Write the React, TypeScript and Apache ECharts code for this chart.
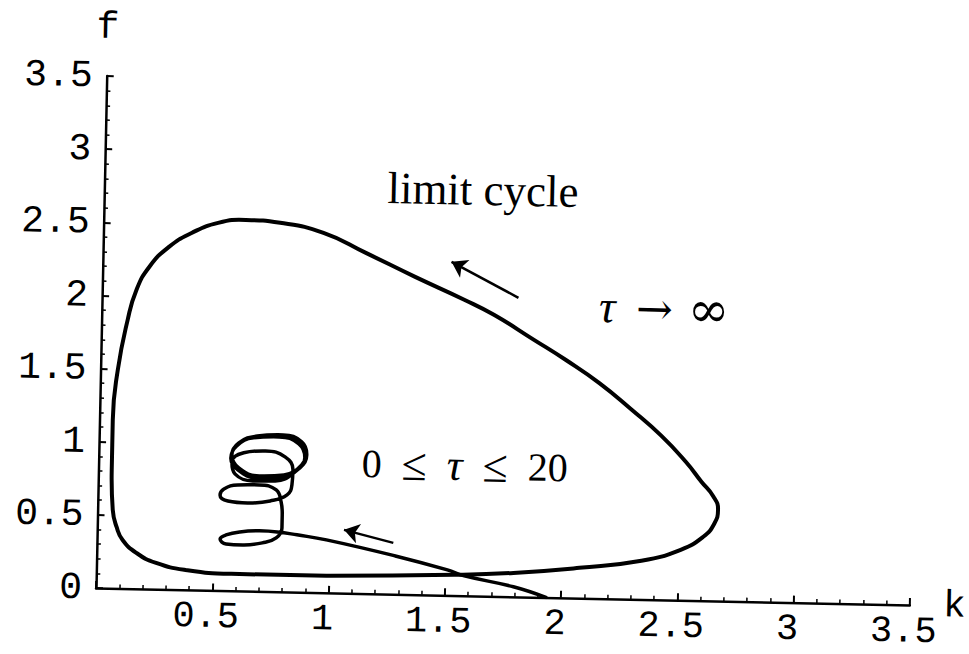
import React, { useEffect, useRef } from "react";
import * as echarts from "echarts";

// Axis ranges and tick step
const K_MAX = 3.5;
const F_MAX = 3.5;
const TICK_STEP = 0.5;

// Closed orbit (limit cycle) in the (k, f) phase plane, traversed counter-clockwise
const limitCycle: [number, number][] = [
  [0.989, 0.116], [1.539, 0.141], [1.793, 0.163], [2.076, 0.207], [2.342, 0.264],
  [2.51, 0.345], [2.606, 0.437], [2.652, 0.528], [2.667, 0.624], [2.645, 0.716],
  [2.593, 0.813], [2.524, 0.947], [2.416, 1.122], [2.287, 1.295], [2.144, 1.474],
  [1.998, 1.627], [1.857, 1.762], [1.686, 1.924], [1.557, 2.023], [1.344, 2.172],
  [1.13, 2.329], [0.946, 2.46], [0.759, 2.522], [0.611, 2.537], [0.492, 2.513],
  [0.379, 2.44], [0.283, 2.342], [0.2, 2.202], [0.147, 2.043], [0.112, 1.837],
  [0.074, 1.493], [0.057, 1.151], [0.057, 0.809], [0.065, 0.536], [0.083, 0.42],
  [0.11, 0.332], [0.171, 0.245], [0.256, 0.18], [0.383, 0.136], [0.579, 0.116],
  [0.989, 0.116],
];

// Transient trajectory for 0 <= tau <= 20, starting on the k axis
const transient: [number, number][] = [
  [1.935, 0.0], [1.794, 0.068], [1.582, 0.136], [1.509, 0.174], [1.284, 0.262],
  [0.986, 0.362], [0.859, 0.392], [0.774, 0.409], [0.697, 0.414], [0.613, 0.404],
  [0.554, 0.381], [0.529, 0.353], [0.555, 0.32], [0.627, 0.315], [0.711, 0.332],
  [0.77, 0.368], [0.794, 0.437], [0.794, 0.526], [0.788, 0.615], [0.766, 0.696],
  [0.693, 0.728], [0.6, 0.725], [0.541, 0.695], [0.525, 0.653], [0.559, 0.614],
  [0.644, 0.603], [0.741, 0.62], [0.813, 0.664], [0.833, 0.733], [0.836, 0.835],
  [0.801, 0.923], [0.716, 0.961], [0.623, 0.945], [0.573, 0.881], [0.587, 0.8],
  [0.664, 0.754], [0.761, 0.757], [0.845, 0.822], [0.886, 0.919], [0.859, 1.014],
  [0.774, 1.059], [0.664, 1.049], [0.592, 0.991], [0.568, 0.908], [0.599, 0.827],
  [0.684, 0.775], [0.786, 0.785], [0.865, 0.85], [0.894, 0.94], [0.871, 1.028],
  [0.791, 1.073], [0.68, 1.062], [0.601, 1.012], [0.572, 0.929], [0.603, 0.841],
  [0.692, 0.789], [0.798, 0.8], [0.873, 0.871], [0.893, 0.96],
];

// Direction-of-motion arrows: [tail, head]
const flowArrows: [number, number][][] = [
  [[1.79, 2.044], [1.499, 2.28]],
  [[1.274, 0.351], [1.061, 0.433]],
];

const MONO = '"Liberation Mono", "DejaVu Sans Mono", monospace';
const SERIF = '"Liberation Serif", "DejaVu Serif", serif';
const DV_SERIF = '"DejaVu Serif", serif';
const SP = "\u2002";

function textEl(text: string, x: number, y: number, size: number, family: string, extra: any = {}) {
  return {
    type: "text",
    z: 10,
    style: {
      text,
      x,
      y,
      fontSize: size,
      fontFamily: family,
      fill: "#000",
      align: "left",
      textAlign: "left",
      verticalAlign: "middle",
      textVerticalAlign: "middle",
      ...extra,
    },
  };
}

export default function App() {
  const ref = useRef<HTMLDivElement>(null);

  useEffect(() => {
    if (!ref.current) return;
    const chart = echarts.init(ref.current, null, { renderer: "svg" });

    const axisCommon = {
      type: "value" as const,
      min: 0,
      interval: TICK_STEP,
      axisLine: { show: true, onZero: false, lineStyle: { color: "#000", width: 2.5 } },
      axisTick: { show: true, inside: true, length: 7, lineStyle: { color: "#000", width: 2 } },
      minorTick: { show: true, splitNumber: 5, length: 4, lineStyle: { color: "#000", width: 1.5 } },
      splitLine: { show: false },
      minorSplitLine: { show: false },
      nameTextStyle: { fontFamily: MONO, fontSize: 38, color: "#000" },
    };

    chart.setOption({
      animation: false,
      backgroundColor: "#fff",
      grid: { left: 96, top: 76, width: 827, height: 512, containLabel: false },
      xAxis: {
        ...axisCommon,
        max: K_MAX,
        name: "k",
        nameLocation: "end",
        nameGap: 20,
        axisLabel: {
          fontFamily: MONO,
          fontSize: 37,
          color: "#000",
          margin: 8,
          padding: [0, 12, 0, 0],
          formatter: (v: number) => (v === 0 ? "" : String(v)),
        },
      },
      yAxis: {
        ...axisCommon,
        max: F_MAX,
        name: "f",
        nameLocation: "end",
        nameGap: 30,
        axisLabel: {
          fontFamily: MONO,
          fontSize: 38,
          color: "#000",
          margin: 14,
          formatter: (v: number) => String(v),
        },
      },
      series: [
        {
          name: "limit cycle",
          type: "line",
          data: limitCycle,
          smooth: 0.5,
          showSymbol: false,
          symbol: "none",
          lineStyle: { color: "#000", width: 4, join: "round", cap: "round" },
          z: 3,
        },
        {
          name: "transient",
          type: "line",
          data: transient,
          smooth: 0.45,
          showSymbol: false,
          symbol: "none",
          lineStyle: { color: "#000", width: 3.5, join: "round", cap: "round" },
          z: 3,
        },
        {
          name: "flow",
          type: "lines",
          coordinateSystem: "cartesian2d",
          symbol: ["none", "arrow"],
          symbolSize: [11, 15],
          lineStyle: { color: "#000", width: 2.5, opacity: 1, curveness: 0 },
          data: flowArrows.map((c) => ({ coords: c })),
          z: 4,
        },
      ],
      graphic: [
        textEl("limit cycle", 379, 182, 45, SERIF),
        textEl("τ", 593, 296, 46, SERIF, { fontStyle: "italic" }),
        textEl("→", 630, 297, 44, DV_SERIF),
        textEl("∞", 682, 297, 50, DV_SERIF),
        textEl(`0${SP}{le|≤}${SP}{t|τ}${SP}{le|≤}${SP}20`, 359, 458, 40, SERIF, {
          rich: {
            t: { fontStyle: "italic", fontFamily: SERIF, fontSize: 44, fill: "#000" },
            le: { fontFamily: SERIF, fontSize: 46, fill: "#000" },
          },
        }),
      ],
    });

    return () => chart.dispose();
  }, []);

  return (
    <div
      style={{
        position: "fixed",
        left: 0,
        top: 0,
        width: 969,
        height: 654,
        overflow: "hidden",
        background: "#fff",
      }}
    >
      <div
        ref={ref}
        style={{
          width: 969,
          height: 654,
          transform: "rotate(1.2deg)",
          transformOrigin: "96px 588px",
        }}
      />
    </div>
  );
}
